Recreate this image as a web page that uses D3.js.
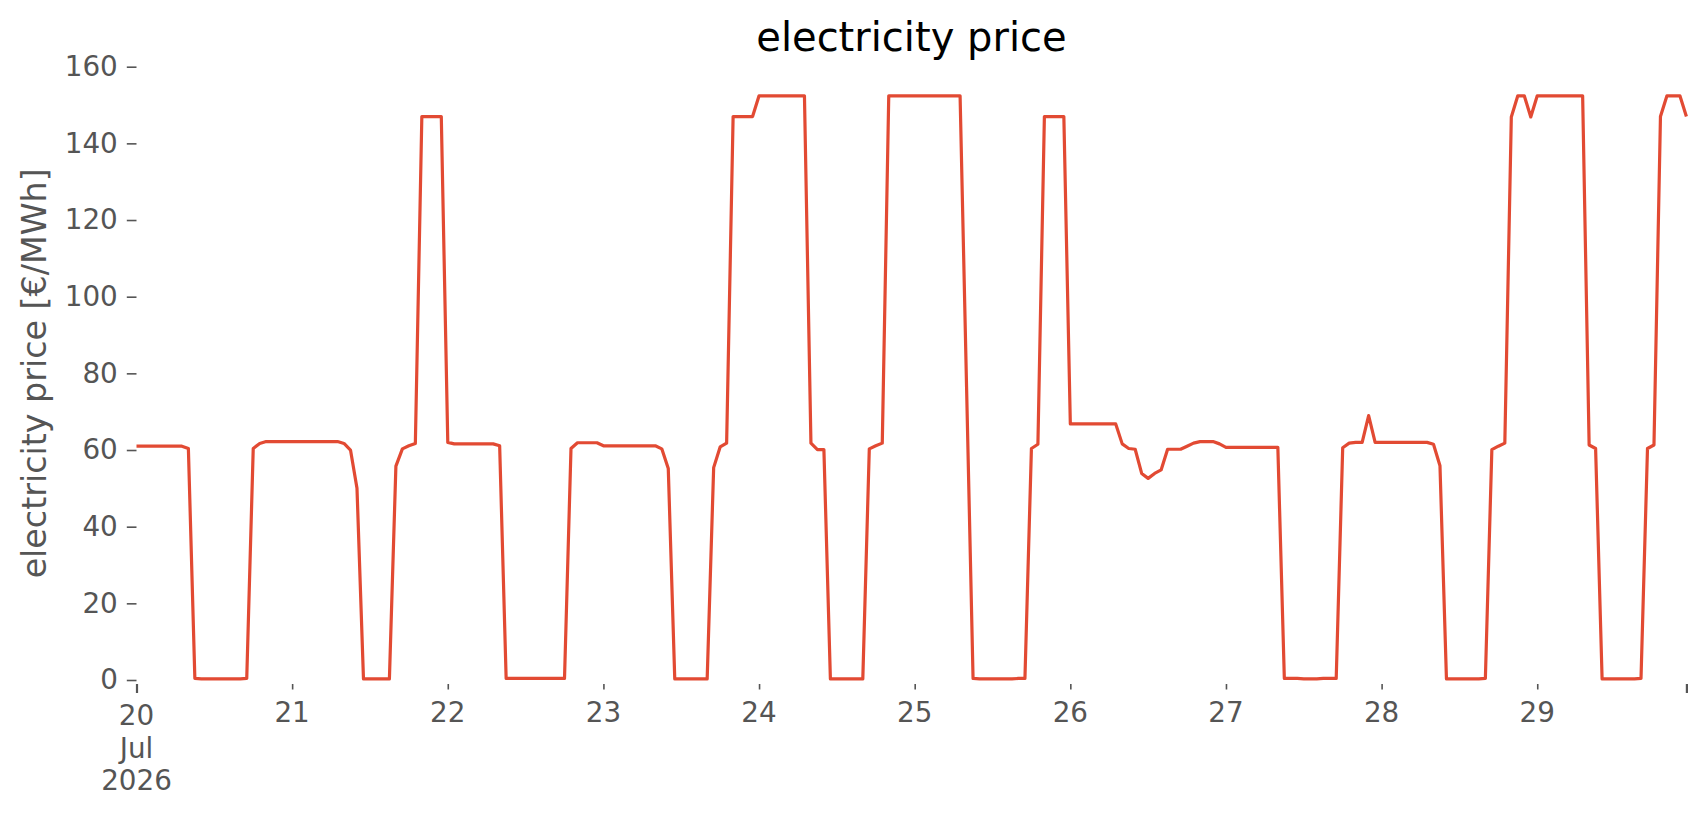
<!DOCTYPE html>
<html>
<head>
<meta charset="utf-8">
<script src="https://cdn.jsdelivr.net/npm/d3@7"></script>
<style>
  body { margin: 0; background: #ffffff; }
  svg { display: block; font-family: "DejaVu Sans", sans-serif; }
</style>
</head>
<body>
<div id="chart"></div>
<script>
// hourly prices [€/MWh], one array per day
var jul20 = [61.0, 61.0, 61.0, 61.0, 61.0, 61.0, 61.0, 61.0, 60.4, 0.4, 0.3, 0.3, 0.3, 0.3, 0.3, 0.3, 0.3, 0.4, 60.4, 61.7, 62.2, 62.2, 62.2, 62.2];
var jul21 = [62.2, 62.2, 62.2, 62.2, 62.2, 62.2, 62.2, 62.2, 61.7, 60.0, 50.0, 0.3, 0.3, 0.3, 0.3, 0.3, 55.8, 60.3, 61.1, 61.7, 147.0, 147.0, 147.0, 147.0];
var jul22 = [62.0, 61.6, 61.6, 61.6, 61.6, 61.6, 61.6, 61.6, 61.1, 0.4, 0.4, 0.4, 0.4, 0.4, 0.4, 0.4, 0.4, 0.4, 0.4, 60.4, 61.9, 61.9, 61.9, 61.9];
var jul23 = [61.1, 61.1, 61.1, 61.1, 61.1, 61.1, 61.1, 61.1, 61.1, 60.3, 55.2, 0.3, 0.3, 0.3, 0.3, 0.3, 0.3, 55.4, 60.8, 61.8, 147.0, 147.0, 147.0, 147.0];
var jul24 = [152.4, 152.4, 152.4, 152.4, 152.4, 152.4, 152.4, 152.4, 61.8, 60.1, 60.1, 0.3, 0.3, 0.3, 0.3, 0.3, 0.3, 60.3, 61.1, 61.8, 152.4, 152.4, 152.4, 152.4];
var jul25 = [152.4, 152.4, 152.4, 152.4, 152.4, 152.4, 152.4, 152.4, 76.4, 0.4, 0.3, 0.3, 0.3, 0.3, 0.3, 0.3, 0.4, 0.4, 60.4, 61.5, 147.0, 147.0, 147.0, 147.0];
var jul26 = [66.8, 66.8, 66.8, 66.8, 66.8, 66.8, 66.8, 66.8, 61.6, 60.4, 60.2, 53.9, 52.6, 53.9, 54.8, 60.2, 60.2, 60.2, 61.0, 61.8, 62.2, 62.2, 62.2, 61.6];
var jul27 = [60.7, 60.7, 60.7, 60.7, 60.7, 60.7, 60.7, 60.7, 60.7, 0.4, 0.4, 0.4, 0.3, 0.3, 0.3, 0.4, 0.4, 0.4, 60.6, 61.8, 62.0, 62.0, 69.0, 62.0];
var jul28 = [62.0, 62.0, 62.0, 62.0, 62.0, 62.0, 62.0, 62.0, 61.5, 55.9, 0.3, 0.3, 0.3, 0.3, 0.3, 0.3, 0.4, 60.1, 61.0, 61.8, 146.9, 152.4, 152.4, 146.9];
var jul29 = [152.4, 152.4, 152.4, 152.4, 152.4, 152.4, 152.4, 152.4, 61.3, 60.4, 0.3, 0.3, 0.3, 0.3, 0.3, 0.3, 0.4, 60.4, 61.3, 147.0, 152.4, 152.4, 152.4, 147.0];

var dayLabels = ["20", "21", "22", "23", "24", "25", "26", "27", "28", "29"];
var monthLabel = "Jul";
var yearLabel = "2026";
var yTicks = [0, 20, 40, 60, 80, 100, 120, 140, 160];

var titleText = "electricity price";
var yLabelText = "electricity price [€/MWh]";

var lineColor = "#E24A33";
var tickColor = "#555555";

const width = 1706;
const height = 815;
const plotLeft = 136.5;   // x of the first hour
const plotRight = 1686.4; // x of the last hour
const plotTop = 66.7;     // y of 160
const plotBottom = 680;   // y of 0
const axisY = 684;        // where the x ticks start

var days = [jul20, jul21, jul22, jul23, jul24, jul25, jul26, jul27, jul28, jul29];

// build hourly records
var prices = [];
days.forEach(function(day, d) {
  day.forEach(function(v, h) {
    prices.push({ time: new Date(2026, 6, 20 + d, h), value: v });
  });
});

var svg = d3.select("#chart")
  .append("svg")
  .attr("width", width)
  .attr("height", height);

svg.append("rect")
  .attr("width", width)
  .attr("height", height)
  .attr("fill", "#ffffff");

var x = d3.scaleTime()
  .domain(d3.extent(prices, d => d.time))
  .range([plotLeft, plotRight]);

var y = d3.scaleLinear()
  .domain([0, 160])
  .range([plotBottom, plotTop]);

// y axis
var yAxis = svg.append("g")
  .attr("transform", `translate(${plotLeft},0)`)
  .call(d3.axisLeft(y).tickValues(yTicks).tickSize(9.7).tickPadding(9));

yAxis.select(".domain").remove();
yAxis.selectAll(".tick line").attr("stroke", tickColor).attr("stroke-width", 1.6);
yAxis.selectAll(".tick text")
  .attr("fill", tickColor)
  .attr("font-size", "27.8px")
  .attr("font-family", "DejaVu Sans");

// x axis: one tick per day, plus the end of the range
var dayDates = dayLabels.map(d => new Date(2026, 6, +d));
var xTicks = dayDates.concat([prices[prices.length - 1].time]);

var xAxis = svg.append("g")
  .attr("transform", `translate(0,${axisY})`)
  .call(d3.axisBottom(x).tickValues(xTicks).tickSize(5.5).tickFormat(""));

xAxis.select(".domain").remove();
xAxis.selectAll(".tick line")
  .attr("stroke", tickColor)
  .attr("y2", (d, i) => (i === 0 || i === xTicks.length - 1) ? 9 : 5.5)
  .attr("stroke-width", (d, i) => (i === 0 || i === xTicks.length - 1) ? 2.2 : 1.6);

var xLabels = svg.append("g")
  .attr("fill", tickColor)
  .attr("font-size", "27.8px")
  .attr("text-anchor", "middle");

xLabels.selectAll("text.day")
  .data(dayDates.slice(1))
  .enter()
  .append("text")
  .attr("class", "day")
  .attr("x", d => x(d))
  .attr("y", 721.7)
  .text((d, i) => dayLabels[i + 1]);

// first label carries month and year
var first = xLabels.append("text");
first.append("tspan").attr("x", x(dayDates[0])).attr("y", 725).text(dayLabels[0]);
first.append("tspan").attr("x", x(dayDates[0])).attr("y", 757.5).text(monthLabel);
first.append("tspan").attr("x", x(dayDates[0])).attr("y", 790).text(yearLabel);

// price line
var line = d3.line()
  .x(d => x(d.time))
  .y(d => y(d.value));

svg.append("path")
  .datum(prices)
  .attr("d", line)
  .attr("fill", "none")
  .attr("stroke", lineColor)
  .attr("stroke-width", 3.2)
  .attr("stroke-linejoin", "round");

// title and axis label
svg.append("text")
  .attr("x", (plotLeft + plotRight) / 2)
  .attr("y", 51)
  .attr("text-anchor", "middle")
  .attr("font-size", "40px")
  .attr("fill", "#000000")
  .text(titleText);

svg.append("text")
  .attr("transform", `translate(46,${(plotTop + plotBottom) / 2}) rotate(-90)`)
  .attr("text-anchor", "middle")
  .attr("font-size", "33.3px")
  .attr("fill", tickColor)
  .text(yLabelText);
</script>
</body>
</html>
